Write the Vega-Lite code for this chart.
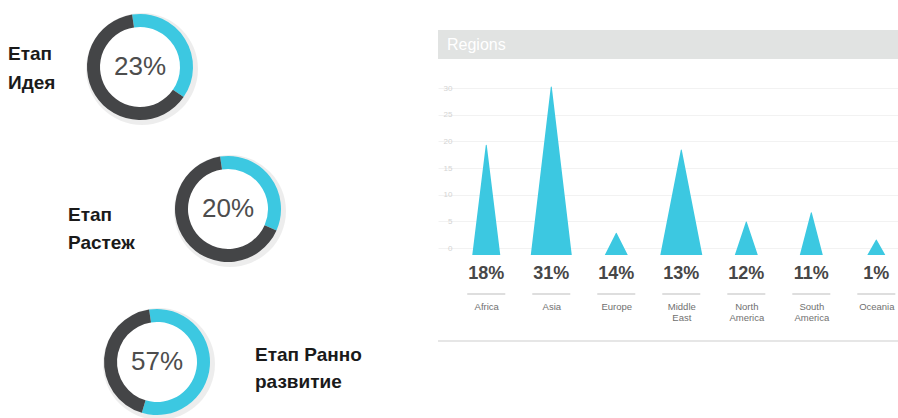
{
  "$schema": "https://vega.github.io/schema/vega-lite/v6.json",
  "padding": 0,
  "background": "white",
  "config": {"view": {"stroke": null}, "font": "Liberation Sans", "axis": {"labelFont": "Liberation Sans"}},
  "datasets": {
    "donuts": [
      {"stage": "Идея", "part": "active", "share": 37},
      {"stage": "Идея", "part": "rest", "share": 63},
      {"stage": "Растеж", "part": "active", "share": 34},
      {"stage": "Растеж", "part": "rest", "share": 66},
      {"stage": "Ранно развитие", "part": "active", "share": 57},
      {"stage": "Ранно развитие", "part": "rest", "share": 43}
    ],
    "stages": [
      {"stage": "Идея", "label": "23%", "name": "Етап\nИдея"},
      {"stage": "Растеж", "label": "20%", "name": "Етап\nРастеж"},
      {"stage": "Ранно развитие", "label": "57%", "name": "Етап Ранно\nразвитие"}
    ],
    "regions": [
      {"region": "Africa", "pct": "18%"},
      {"region": "Asia", "pct": "31%"},
      {"region": "Europe", "pct": "14%"},
      {"region": "Middle East", "pct": "13%"},
      {"region": "North America", "pct": "12%"},
      {"region": "South America", "pct": "11%"},
      {"region": "Oceania", "pct": "1%"}
    ],
    "spikes": [
      {"region": "Africa", "level": -1.3, "spread": 2.8},
      {"region": "Africa", "level": 19.3, "spread": 0},
      {"region": "Asia", "level": -1.3, "spread": 4.1},
      {"region": "Asia", "level": 30.2, "spread": 0},
      {"region": "Europe", "level": -1.3, "spread": 2.3},
      {"region": "Europe", "level": 2.8, "spread": 0},
      {"region": "Middle East", "level": -1.3, "spread": 4.2},
      {"region": "Middle East", "level": 18.4, "spread": 0},
      {"region": "North America", "level": -1.3, "spread": 2.3},
      {"region": "North America", "level": 4.9, "spread": 0},
      {"region": "South America", "level": -1.3, "spread": 2.3},
      {"region": "South America", "level": 6.6, "spread": 0},
      {"region": "Oceania", "level": -1.3, "spread": 1.8},
      {"region": "Oceania", "level": 1.5, "spread": 0}
    ],
    "header": [{"title": "Regions"}],
    "none": []
  },
  "hconcat": [
    {
      "vconcat": [
        {
          "hconcat": [
            {
              "width": 16, "height": 134,
              "data": {"name": "stages"},
              "transform": [{"filter": "datum.stage === 'Идея'"}],
              "mark": {"type": "text", "align": "left", "baseline": "middle", "dy": -13, "fontSize": 19, "fontWeight": "bold", "lineBreak": "\n", "lineHeight": 29, "color": "#1a1a1a"},
              "encoding": {"text": {"field": "name"}}
            },
            {
              "width": 248, "height": 134,
              "layer": [
                {
                  "data": {"name": "stages"},
                  "transform": [{"filter": "datum.stage === 'Идея'"}],
                  "mark": {"type": "arc", "innerRadius": 50, "outerRadius": 56, "theta": 0, "theta2": 6.2832, "color": "#000000", "opacity": 0.07, "xOffset": 2, "yOffset": 2}
                },
                {
                  "data": {"name": "donuts"},
                  "transform": [{"filter": "datum.stage === 'Идея'"}],
                  "mark": {"type": "arc", "innerRadius": 40, "outerRadius": 53},
                  "encoding": {
                    "theta": {"field": "share", "type": "quantitative", "stack": true, "scale": {"range": [-0.15, 6.1332]}},
                    "color": {"field": "part", "type": "nominal", "scale": {"domain": ["active", "rest"], "range": ["#3cc8e1", "#444547"]}, "legend": null},
                    "order": {"field": "part", "sort": "ascending"}
                  }
                },
                {
                  "data": {"name": "stages"},
                  "transform": [{"filter": "datum.stage === 'Идея'"}],
                  "mark": {"type": "text", "fontSize": 26, "color": "#4d4d4d", "baseline": "middle"},
                  "encoding": {"text": {"field": "label"}}
                }
              ]
            }
          ],
          "spacing": 0, "bounds": "flush"
        },
        {
          "hconcat": [
            {
              "width": 136, "height": 150,
              "data": {"name": "stages"},
              "transform": [{"filter": "datum.stage === 'Растеж'"}],
              "mark": {"type": "text", "align": "left", "baseline": "middle", "dy": 6, "fontSize": 19, "fontWeight": "bold", "lineBreak": "\n", "lineHeight": 28, "color": "#1a1a1a"},
              "encoding": {"text": {"field": "name"}}
            },
            {
              "width": 184, "height": 150,
              "layer": [
                {
                  "data": {"name": "stages"},
                  "transform": [{"filter": "datum.stage === 'Растеж'"}],
                  "mark": {"type": "arc", "innerRadius": 50, "outerRadius": 56, "theta": 0, "theta2": 6.2832, "color": "#000000", "opacity": 0.07, "xOffset": 2, "yOffset": 2}
                },
                {
                  "data": {"name": "donuts"},
                  "transform": [{"filter": "datum.stage === 'Растеж'"}],
                  "mark": {"type": "arc", "innerRadius": 40, "outerRadius": 53},
                  "encoding": {
                    "theta": {"field": "share", "type": "quantitative", "stack": true, "scale": {"range": [-0.15, 6.1332]}},
                    "color": {"field": "part", "type": "nominal", "scale": {"domain": ["active", "rest"], "range": ["#3cc8e1", "#444547"]}, "legend": null},
                    "order": {"field": "part", "sort": "ascending"}
                  }
                },
                {
                  "data": {"name": "stages"},
                  "transform": [{"filter": "datum.stage === 'Растеж'"}],
                  "mark": {"type": "text", "fontSize": 26, "color": "#4d4d4d", "baseline": "middle"},
                  "encoding": {"text": {"field": "label"}}
                }
              ]
            }
          ],
          "spacing": 0, "bounds": "flush"
        },
        {
          "width": 10, "height": 24,
          "data": {"name": "none"},
          "mark": "point"
        },
        {
          "hconcat": [
            {
              "width": 102, "height": 106,
              "data": {"name": "none"},
              "mark": "point"
            },
            {
              "width": 110, "height": 106,
              "layer": [
                {
                  "data": {"name": "stages"},
                  "transform": [{"filter": "datum.stage === 'Ранно развитие'"}],
                  "mark": {"type": "arc", "innerRadius": 50, "outerRadius": 56, "theta": 0, "theta2": 6.2832, "color": "#000000", "opacity": 0.07, "xOffset": 2, "yOffset": 2}
                },
                {
                  "data": {"name": "donuts"},
                  "transform": [{"filter": "datum.stage === 'Ранно развитие'"}],
                  "mark": {"type": "arc", "innerRadius": 40, "outerRadius": 53},
                  "encoding": {
                    "theta": {"field": "share", "type": "quantitative", "stack": true, "scale": {"range": [-0.15, 6.1332]}},
                    "color": {"field": "part", "type": "nominal", "scale": {"domain": ["active", "rest"], "range": ["#3cc8e1", "#444547"]}, "legend": null},
                    "order": {"field": "part", "sort": "ascending"}
                  }
                },
                {
                  "data": {"name": "stages"},
                  "transform": [{"filter": "datum.stage === 'Ранно развитие'"}],
                  "mark": {"type": "text", "fontSize": 26, "color": "#4d4d4d", "baseline": "middle"},
                  "encoding": {"text": {"field": "label"}}
                }
              ]
            },
            {
              "width": 86, "height": 106,
              "data": {"name": "stages"},
              "transform": [{"filter": "datum.stage === 'Ранно развитие'"}],
              "mark": {"type": "text", "align": "left", "baseline": "middle", "dy": -7, "fontSize": 19, "fontWeight": "bold", "lineBreak": "\n", "lineHeight": 27, "color": "#1a1a1a"},
              "encoding": {"text": {"field": "name"}}
            },
            {
              "width": 102, "height": 106,
              "data": {"name": "none"},
              "mark": "point"
            }
          ],
          "spacing": 0, "bounds": "flush"
        }
      ],
      "spacing": 0
    },
    {
      "vconcat": [
        {"width": 460, "height": 30, "data": {"name": "none"}, "mark": "point"},
        {
          "width": 460, "height": 29,
          "view": {"fill": "#e1e3e2"},
          "data": {"name": "header"},
          "mark": {"type": "text", "align": "left", "baseline": "middle", "dx": 9, "fontSize": 16, "color": "#ffffff"},
          "encoding": {
            "text": {"field": "title"},
            "x": {"datum": 0, "type": "quantitative", "scale": {"domain": [0, 1]}, "axis": null}
          }
        },
        {
          "width": 460, "height": 196,
          "data": {"name": "spikes"},
          "mark": {"type": "trail", "color": "#3cc8e1", "clip": true},
          "encoding": {
            "x": {"field": "region", "type": "nominal", "sort": null, "scale": {"type": "point", "domain": ["Africa", "Asia", "Europe", "Middle East", "North America", "South America", "Oceania"], "padding": 0.538, "align": 0.69}, "axis": null},
            "y": {"field": "level", "type": "quantitative", "scale": {"domain": [-1.3, 35.45], "nice": false, "zero": false},
              "axis": {"orient": "left", "offset": -20, "values": [0, 5, 10, 15, 20, 25, 30], "domain": false, "ticks": false, "tickSize": 0, "labelPadding": 6, "labelFontSize": 8, "labelColor": "#d4d4d4", "grid": true, "gridColor": "#f2f2f2", "title": null}},
            "size": {"field": "spread", "type": "quantitative", "scale": {"domain": [0, 5], "range": [0, 50]}, "legend": null},
            "detail": {"field": "region"},
            "order": {"field": "level", "type": "quantitative"}
          }
        },
        {
          "width": 460, "height": 38,
          "data": {"name": "regions"},
          "mark": {"type": "text", "fontSize": 18, "fontWeight": "bold", "color": "#474747", "baseline": "middle"},
          "encoding": {
            "x": {"field": "region", "type": "nominal", "sort": null, "scale": {"type": "point", "domain": ["Africa", "Asia", "Europe", "Middle East", "North America", "South America", "Oceania"], "padding": 0.538, "align": 0.69}, "axis": null},
            "text": {"field": "pct"}
          }
        },
        {
          "width": 460, "height": 2,
          "data": {"name": "regions"},
          "mark": {"type": "point", "shape": "stroke", "size": 1444, "strokeWidth": 2, "color": "#dedede", "opacity": 1},
          "encoding": {
            "x": {"field": "region", "type": "nominal", "sort": null, "scale": {"type": "point", "domain": ["Africa", "Asia", "Europe", "Middle East", "North America", "South America", "Oceania"], "padding": 0.538, "align": 0.69},
              "axis": {"orient": "bottom", "title": null, "domain": false, "ticks": false, "tickSize": 0, "grid": false, "labelPadding": 6, "labelBaseline": "top", "labelFontSize": 9.5, "labelColor": "#707070", "labelLineHeight": 11, "labelOverlap": false, "labelAngle": 0, "labelExpr": "split(datum.label, ' ')"}}
          }
        },
        {"width": 460, "height": 45, "data": {"name": "none"}, "mark": "point"},
        {"width": 460, "height": 2, "view": {"fill": "#e6e6e6"}, "data": {"name": "none"}, "mark": "point"}
      ],
      "spacing": 0, "bounds": "flush",
      "resolve": {"scale": {"x": "independent", "y": "independent"}}
    }
  ],
  "spacing": 38
}
